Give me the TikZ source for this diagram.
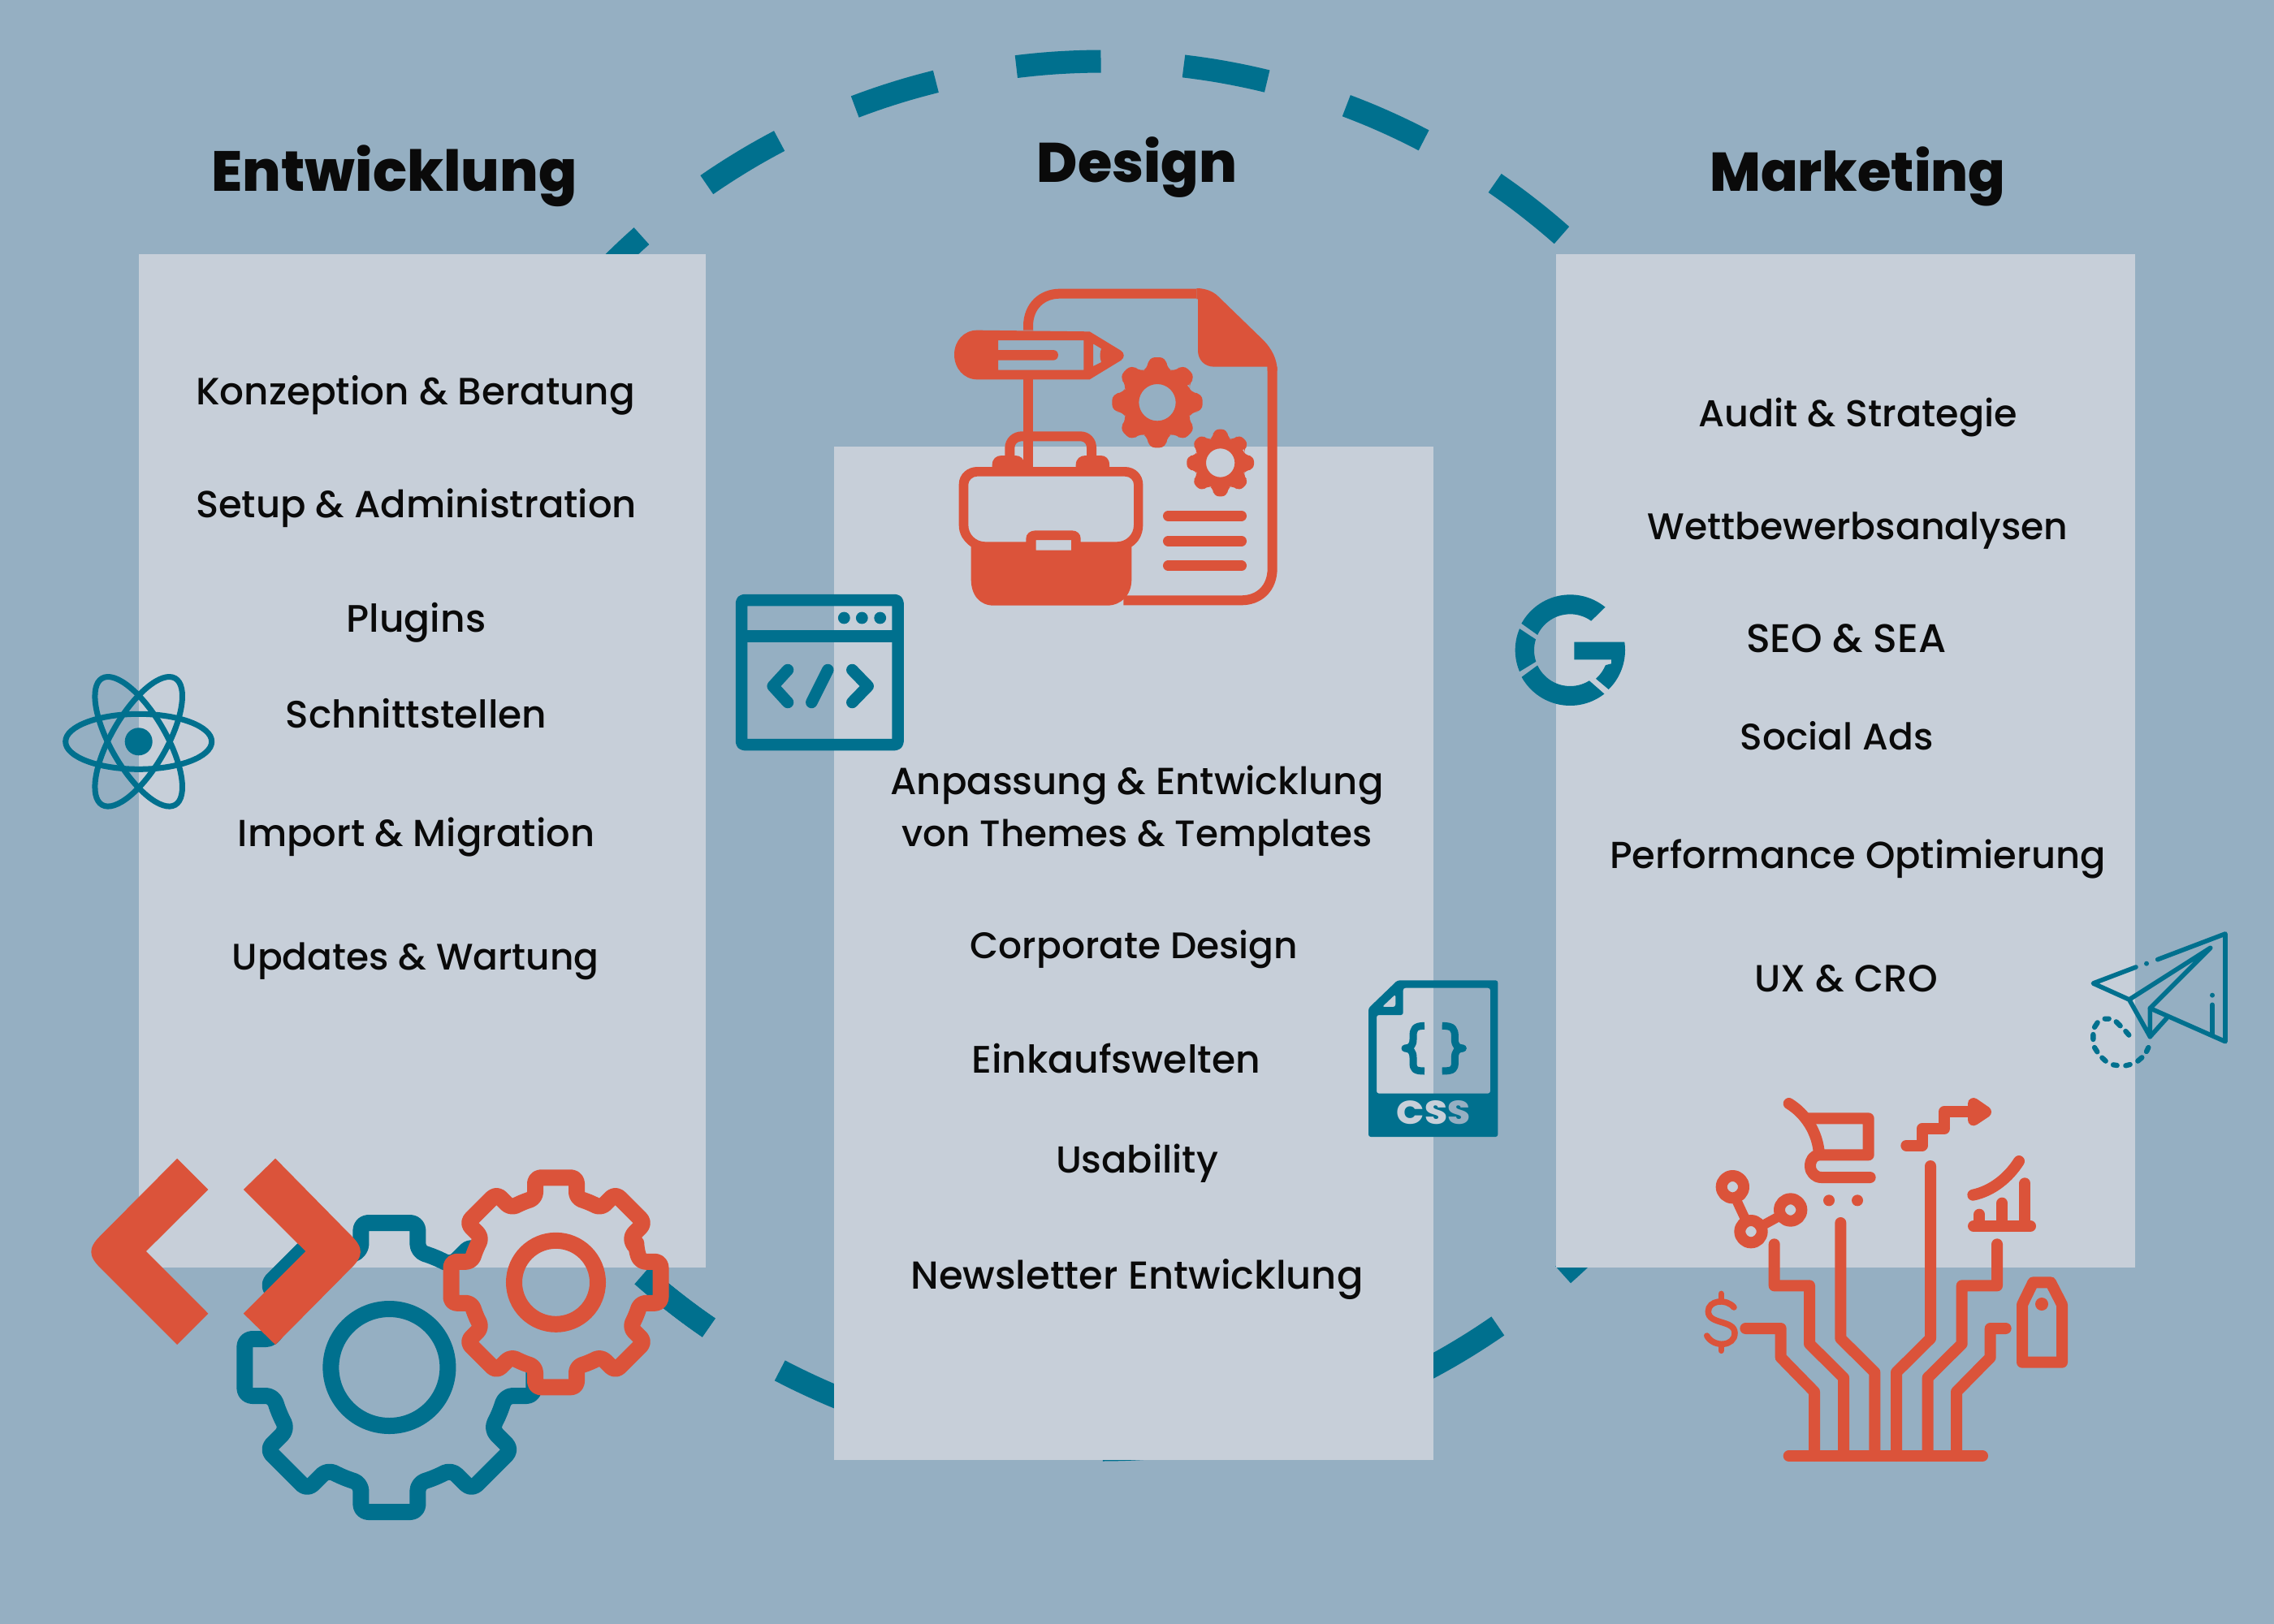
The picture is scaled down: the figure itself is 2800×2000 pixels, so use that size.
\documentclass[tikz,border=0pt]{standalone}
\usepackage{fontspec}
\usepackage{graphicx}
\newfontfamily\fMed{Poppins}[UprightFont=* Medium]
\newfontfamily\fHead{Poppins}[UprightFont=* ExtraBold]
\definecolor{bgc}{HTML}{95AFC2}
\definecolor{panelc}{HTML}{C7CFD9}
\definecolor{tealc}{HTML}{00708E}
\definecolor{orangec}{HTML}{DB533A}
\definecolor{inkc}{HTML}{0A0A0A}
\newcommand\lblscale{1.78571}
% label: name, x0, x1, baseline (1568-scale), font, text
\newcommand\lbl[6]{%
  \pgfmathsetlengthmacro\lblw{(#3-#2)*\lblscale*0.01cm}%
  \pgfmathsetmacro\lblx{(#2+#3)/2*\lblscale}%
  \pgfmathsetmacro\lbly{#4*\lblscale}%
  \node[anchor=base,inner sep=0pt,text=inkc] (#1) at (\lblx,\lbly) {\resizebox{\lblw}{!}{#5#6}};}
% gear: cx,cy,Rt,Rr,halfwidth
\newcommand\gearsetup[1]{\def\gRb{#1}}
\newcommand\gearpath[5]{%
  ({#1+#4*cos(22.5)},{#2-#4*sin(22.5)})
  \foreach \ga in {45,90,...,360} {
    -- ({#1+\gRb*cos(\ga)+#5*sin(\ga)},{#2-(\gRb*sin(\ga)-#5*cos(\ga))})
    -- ({#1+#3*cos(\ga)+#5*sin(\ga)},{#2-(#3*sin(\ga)-#5*cos(\ga))})
    -- ({#1+#3*cos(\ga)-#5*sin(\ga)},{#2-(#3*sin(\ga)+#5*cos(\ga))})
    -- ({#1+\gRb*cos(\ga)-#5*sin(\ga)},{#2-(\gRb*sin(\ga)+#5*cos(\ga))})
    -- ({#1+#4*cos(\ga+22.5)},{#2-#4*sin(\ga+22.5)})
  } -- cycle}
\tikzset{
  panel/.style={fill=panelc,draw=none},
  ringdash/.style={tealc,line width=28*0.28453pt},
  tree/.style={draw=orangec,line width=3.98pt,line cap=round,line join=round},
  tealln/.style={draw=tealc,line cap=round,line join=round},
  orln/.style={draw=orangec,line cap=round,line join=round},
}
\begin{document}
\begin{tikzpicture}[x=0.01cm,y=-0.01cm]
\path[use as bounding box,fill=bgc] (0,0) rectangle (2800,2000);
% dashed ring
\foreach \k in {0,...,25}{
  \pgfmathsetmacro\dsa{90.1-13.85*\k}
  \pgfmathsetmacro\dsb{\dsa+7}
  \draw[ringdash] plot[domain=\dsa:\dsb,samples=10] ({1357+855*cos(\x)},{930.5-855*sin(\x)});
}
% panels
\fill[panel] (171,313) rectangle (869,1561);
\fill[panel] (1027,550) rectangle (1765,1798);
\fill[panel] (1916,313) rectangle (2629,1561);
% headings
\lbl{hE}{146}{398}{132}{\fHead}{Entwicklung}
\lbl{hD}{715}{853}{126}{\fHead}{Design}
\lbl{hM}{1179}{1383}{132}{\fHead}{Marketing}
% labels
\lbl{a1}{135}{438}{279}{\fMed}{Konzeption \& Beratung}
\lbl{a2}{135}{439}{357}{\fMed}{Setup \& Administration}
\lbl{a3}{239}{335}{436}{\fMed}{Plugins}
\lbl{a4}{197}{377}{502}{\fMed}{Schnittstellen}
\lbl{a5}{164}{410}{584}{\fMed}{Import \& Migration}
\lbl{a6}{160}{413}{669}{\fMed}{Updates \& Wartung}
\lbl{b1}{614}{954}{548}{\fMed}{Anpassung \& Entwicklung}
\lbl{b2}{622}{946}{584}{\fMed}{von Themes \& Templates}
\lbl{b3}{669}{895}{661}{\fMed}{Corporate Design}
\lbl{b4}{670}{869}{740}{\fMed}{Einkaufswelten}
\lbl{b5}{728}{840}{809}{\fMed}{Usability}
\lbl{b6}{628}{940}{889}{\fMed}{Newsletter Entwicklung}
\lbl{c1}{1171}{1391}{294}{\fMed}{Audit \& Strategie}
\lbl{c2}{1136}{1426}{372}{\fMed}{Wettbewerbsanalysen}
\lbl{c3}{1204}{1342}{450}{\fMed}{SEO \& SEA}
\lbl{c4}{1200}{1333}{517}{\fMed}{Social Ads}
\lbl{c5}{1110}{1452}{599}{\fMed}{Performance Optimierung}
\lbl{c6}{1210}{1336}{684}{\fMed}{UX \& CRO}
% atom
\begin{scope}[tealc,line width=7*0.28453pt]
  \draw[rotate around={0:(170.7,913.3)}] (170.7,913.3) ellipse[x radius=90,y radius=34];
  \draw[rotate around={60:(170.7,913.3)}] (170.7,913.3) ellipse[x radius=90,y radius=34];
  \draw[rotate around={120:(170.7,913.3)}] (170.7,913.3) ellipse[x radius=90,y radius=34];
  \fill (170.7,913.3) circle[radius=17];
\end{scope}
% browser
\begin{scope}[tealc,line width=14.5*0.28453pt,line join=round]
  \draw[rounded corners=1pt] (913,739) rectangle (1105.5,917);
  \draw (913,783.3) -- (1105.5,783.3);
  \fill (1039.3,761) circle[radius=7.4] (1061.3,761) circle[radius=7.4] (1083.7,761) circle[radius=7.4];
  \draw[line cap=round] (970,825) -- (951.7,845) -- (970,865);
  \draw[line cap=round] (1019.3,825) -- (999.3,865);
  \draw[line cap=round] (1049.3,825) -- (1068.7,845) -- (1049.3,865);
\end{scope}
% css file
\begin{scope}[shift={(1660,1180)},xscale=1/3,yscale=1/3]
  \fill[tealc,even odd rule,rounded corners=0.8pt]
    (182,82) -- (553,82) -- (553,660) -- (75,660) -- (75,185) -- cycle
    (203,110) -- (525,110) -- (525,500) -- (105,500) -- (105,210) -- (203,210) -- cycle
    (175,133) -- (175,180) -- (125,180) -- cycle;
  \draw[tealc,line width=9*0.28453pt,line join=round]
    (282,250) .. controls (245,250) and (240,262) .. (240,290) -- (240,300) .. controls (240,322) and (230,333) .. (210,333) .. controls (230,333) and (240,345) .. (240,368) -- (240,385) .. controls (240,410) and (245,417) .. (282,417);
  \draw[tealc,line width=9*0.28453pt,line join=round]
    (347,250) .. controls (389,250) and (394,262) .. (394,290) -- (394,300) .. controls (394,322) and (404,333) .. (424,333) .. controls (404,333) and (394,345) .. (394,368) -- (394,385) .. controls (394,410) and (389,417) .. (347,417);
  \node[anchor=base,inner sep=0pt] (css) at (315,612) {\resizebox{0.9cm}{0.29cm}{\fHead{\color{panelc}CS}{\color{bgc}S}}};
\end{scope}
% G
\begin{scope}[shift={(1840,700)},xscale=1/3,yscale=1/3]
  \fill[tealc] plot[domain=50.8:151.3,samples=30] ({280+205*cos(\x)},{302-205*sin(\x)}) -- plot[domain=155:54.3,samples=30] ({280+133*cos(\x)},{302-133*sin(\x)}) -- cycle;
  \fill[tealc] plot[domain=157:203,samples=20] ({280+203*cos(\x)},{302-203*sin(\x)}) -- plot[domain=198.6:162.6,samples=20] ({280+133*cos(\x)},{302-133*sin(\x)}) -- cycle;
  \fill[tealc] plot[domain=209:308,samples=30] ({280+205*cos(\x)},{302-205*sin(\x)}) -- plot[domain=302:205,samples=30] ({280+133*cos(\x)},{302-133*sin(\x)}) -- cycle;
  \fill[tealc] (295,272) -- plot[domain=8.5:-45.6,samples=20] ({280+203*cos(\x)},{302-203*sin(\x)}) -- plot[domain=-48:-23,samples=10] ({280+142*cos(\x)},{302-142*sin(\x)}) -- (432,352) -- (432,337) -- (295,337) -- cycle;
\end{scope}
% plane
\begin{scope}[shift={(2540,1130)},xscale=1/3,yscale=1/3,tealln,line width=5.6*0.28453pt]
  \draw (270,183) -- (112,243) -- (245,303) -- (322,440) -- (322,335) -- (545,112) -- (245,303);
  \draw (350,155) -- (600,60) -- (600,458) -- (322,335);
  \draw (322,440) -- (385,370);
  \draw (552,322) -- (552,432);
  \fill[tealc] (309,170) circle[radius=9] (552,287) circle[radius=9];
  \draw[line width=6.3*0.28453pt] (155,374) -- (170,374) (197,385) -- (212,400) (232,420) -- (244,434) (316,480) -- (309,495) (292,517) -- (277,530) (248,543) -- (232,547) (200,546) -- (186,544) (158,530) -- (145,518) (127,496) -- (117,480) (112,450) -- (112,432) (117,405) -- (128,388);
\end{scope}
% gears left
\gearsetup{142.8}
\draw[tealc,line width=20*0.28453pt,line join=round,rounded corners=2.6pt] \gearpath{479.4}{1684}{178}{147}{35};
\draw[tealc,line width=20*0.28453pt] (479.4,1684) circle[radius=72];
% orange gear hides the teal one inside its outline
\gearsetup{103.9}
\begin{scope}
  \clip (0,0) rectangle (2800,1561);
  \fill[panelc,rounded corners=2pt] \gearpath{684.5}{1579.3}{129}{107}{25.5};
\end{scope}
\begin{scope}
  \clip (0,1561) rectangle (2800,2000);
  \fill[bgc,rounded corners=2pt] \gearpath{684.5}{1579.3}{129}{107}{25.5};
  \draw[ringdash] plot[domain=-131.5:-124.5,samples=10] ({1357+855*cos(\x)},{930.5-855*sin(\x)});
\end{scope}
\draw[orangec,line width=20*0.28453pt,line join=round,rounded corners=2pt] \gearpath{684.5}{1579.3}{129}{107}{25.5};
\draw[orangec,line width=20*0.28453pt] (684.5,1579.3) circle[radius=51.5];
\begin{scope}[shift={(60,1380)},xscale=1/1.96,yscale=1/3]
  \fill[orangec] (310,140) -- (385,255) -- (235,483) -- (385,713) -- (310,828) -- (125,545) .. controls (95,500) and (95,470) .. (125,425) -- cycle;
  \fill[orangec] (547,140) -- (470,255) -- (620,483) -- (470,713) -- (547,828) -- (730,545) .. controls (760,500) and (760,470) .. (730,425) -- cycle;
\end{scope}
% document / pencil / briefcase
\begin{scope}[shift={(1120,330)},xscale=1/3,yscale=1/3]
  \draw[orangec,line width=12*0.28453pt] (438,230) -- (438,215) .. controls (438,140) and (490,95) .. (555,95) -- (1060,95);
  \fill[orangec] (1060,75) .. controls (1090,75) and (1120,85) .. (1140,105) -- (1305,265) .. controls (1340,300) and (1358,340) .. (1358,380) -- (1322,380) -- (1322,365) -- (1125,365) .. controls (1090,365) and (1065,340) .. (1065,305) -- (1065,115) -- (1060,115) -- cycle;
  \draw[orangec,line width=12*0.28453pt] (1340,365) -- (1340,1110) .. controls (1340,1185) and (1290,1228) .. (1225,1228) -- (790,1228);
  \draw[orangec,line width=12*0.28453pt] (438,412) -- (438,740);
  % pencil
  \fill[orangec,even odd rule] (250,230) -- (665,235) -- (780,305) .. controls (795,315) and (795,332) .. (780,342) -- (665,412) -- (250,412) .. controls (200,412) and (165,370) .. (165,320) .. controls (165,270) and (200,230) .. (250,230) -- cycle
    (327,267) -- (643,267) -- (643,377) -- (327,377) -- (327,341) -- (530,341) .. controls (555,341) and (555,303) .. (530,303) -- (327,303) -- cycle
    (678,280) -- (708,298) .. controls (702,315) and (702,332) .. (708,348) -- (678,363) -- cycle;
  % handle
  \draw[orangec,line width=12*0.28453pt] (370,700) -- (370,665) .. controls (370,640) and (390,622) .. (415,622) -- (630,622) .. controls (655,622) and (672,640) .. (672,665) -- (672,700);
  \fill[orangec] (305,740) -- (305,728) .. controls (305,705) and (320,693) .. (340,693) -- (390,693) .. controls (410,693) and (424,705) .. (424,728) -- (424,740) -- cycle;
  \fill[orangec] (614,740) -- (614,728) .. controls (614,705) and (630,693) .. (650,693) -- (705,693) .. controls (725,693) and (738,705) .. (738,728) -- (738,740) -- cycle;
  % case
  \fill[orangec,even odd rule]
    (182,800) .. controls (182,760) and (215,735) .. (250,735) -- (795,735) .. controls (835,735) and (862,765) .. (862,800) -- (862,950) .. controls (862,985) and (845,1015) .. (820,1030) -- (820,1150) .. controls (820,1210) and (780,1247) .. (730,1247) -- (310,1247) .. controls (260,1247) and (227,1210) .. (227,1150) -- (227,1030) .. controls (200,1010) and (182,985) .. (182,950) -- cycle
    (217,800) .. controls (217,785) and (232,770) .. (250,770) -- (795,770) .. controls (815,770) and (828,785) .. (828,800) -- (828,950) .. controls (828,985) and (800,1012) .. (765,1012) -- (632,1012) -- (632,1000) .. controls (632,982) and (618,970) .. (600,970) -- (465,970) .. controls (445,970) and (430,982) .. (430,1000) -- (430,1012) -- (280,1012) .. controls (245,1012) and (217,985) .. (217,950) -- cycle
    (467,1005) -- (597,1005) -- (597,1043) -- (467,1043) -- cycle;
  % small cogs
  \gearsetup{123.4}
  \fill[orangec,even odd rule,rounded corners=2.5pt] \gearpath{915}{497}{167}{128}{34} (983,497) arc[start angle=0,end angle=360,radius=68];
  \gearsetup{90.3}
  \fill[orangec,even odd rule,rounded corners=2pt] \gearpath{1148}{720}{124}{94}{26} (1201,720) arc[start angle=0,end angle=360,radius=53];
  % lines
  \draw[orln,line width=12.7*0.28453pt] (955,916) -- (1226,916) (955,1009) -- (1226,1009) (955,1100) -- (1226,1100);
\end{scope}
% marketing tree
\begin{scope}[shift={(2060,1320)},xscale=1/3,yscale=1/3]
  \draw[tree] (428,1419) -- (1143,1419);
  \draw[tree] (268,948) -- (398,948) -- (398,1055) -- (522,1182) -- (522,1419);
  \draw[tree] (374,637) -- (374,790) -- (504,790) -- (504,1005) -- (630,1130) -- (630,1419);
  \draw[tree] (619,558) -- (619,985) -- (745,1110) -- (745,1419);
  \draw[tree] (951,348) -- (951,985) -- (825,1110) -- (825,1419);
  \draw[tree] (1197,637) -- (1197,790) -- (1067,790) -- (1067,1005) -- (941,1130) -- (941,1419);
  \draw[tree] (1229,948) -- (1172,948) -- (1172,1055) -- (1047,1182) -- (1047,1419);
  % cart
  \draw[tree] (428,117) .. controls (490,155) and (535,225) .. (540,305);
  \draw[tree] (500,172) -- (722,172) -- (722,307) -- (540,307) .. controls (520,307) and (507,325) .. (507,348) .. controls (507,372) and (525,390) .. (548,390) -- (728,390);
  \fill[orangec] (576,475) circle[radius=21] (681,475) circle[radius=21];
  % stairs
  \draw[tree] (862,272) -- (920,272) -- (920,210) -- (1002,210) -- (1002,147) -- (1100,147);
  \filldraw[tree,fill=orangec] (1110,117) -- (1155,148) -- (1110,178) -- cycle;
  % network
  \draw[tree] (220,425) circle[radius=41] (288,590) circle[radius=41] (434,510) circle[radius=41];
  \draw[orangec,line width=12*0.28453pt] (237,480) -- (265,540) (335,565) -- (390,535);
  % chart
  \draw[tree] (1108,455) .. controls (1180,440) and (1240,390) .. (1278,330);
  \draw[tree] (1110,570) -- (1320,570) (1132,527) -- (1132,570) (1216,485) -- (1216,570) (1300,412) -- (1300,570);
  % tag
  \draw[tree] (1290,860) -- (1330,778) -- (1395,778) -- (1437,860) -- (1437,1073) -- (1290,1073) -- cycle;
  \fill[orangec] (1362,858) circle[radius=24];
  % dollar
  \draw[orangec,line width=7.5*0.28453pt,line cap=round] (225,870) .. controls (195,835) and (130,845) .. (130,885) .. controls (130,935) and (228,915) .. (228,965) .. controls (228,1015) and (150,1020) .. (125,975);
  \draw[orangec,line width=7.5*0.28453pt,line cap=round] (178,820) -- (178,838) (178,1012) -- (178,1030);
\end{scope}
\end{tikzpicture}
\end{document}
